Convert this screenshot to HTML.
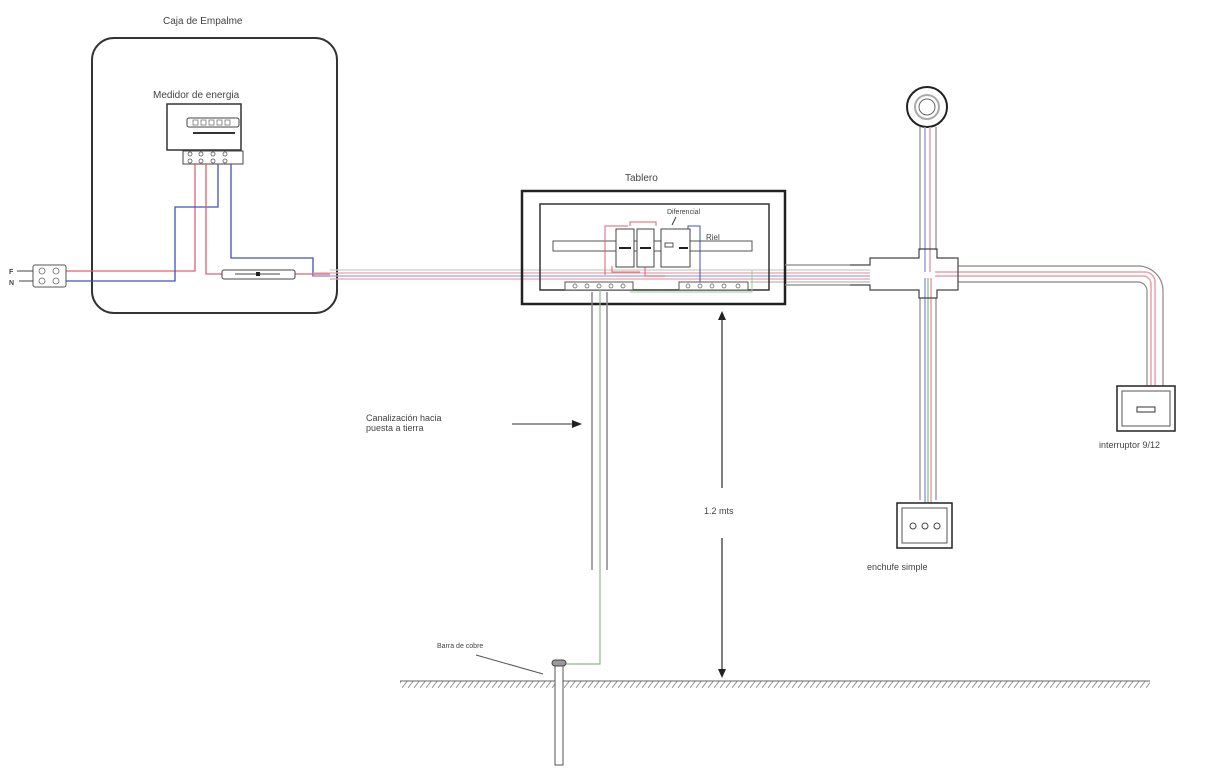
<!DOCTYPE html>
<html><head><meta charset="utf-8"><style>
html,body{margin:0;padding:0;background:#fff;width:1226px;height:779px;overflow:hidden}
svg{display:block}
text{font-family:"Liberation Sans",sans-serif;fill:#444}
</style></head><body>
<svg width="1226" height="779" viewBox="0 0 1226 779" xmlns="http://www.w3.org/2000/svg">
<defs>
<pattern id="h" width="6" height="8" patternUnits="userSpaceOnUse"><path d="M6 0 L0 8" stroke="#999" stroke-width="1"/></pattern>
</defs>
<text x="163" y="24" font-size="10">Caja de Empalme</text>
<rect x="92" y="38" width="245" height="275" rx="22" fill="none" stroke="#333" stroke-width="2"/>
<text x="153" y="98" font-size="10">Medidor de energia</text>
<rect x="167" y="104" width="74" height="46" fill="none" stroke="#333" stroke-width="1.5"/>
<rect x="187" y="118" width="52" height="9" rx="2" fill="none" stroke="#444"/>
<g fill="none" stroke="#666" stroke-width="0.7"><rect x="193" y="120" width="5" height="5"/><rect x="201" y="120" width="5" height="5"/><rect x="209" y="120" width="5" height="5"/><rect x="217" y="120" width="5" height="5"/><rect x="225" y="120" width="5" height="5"/></g>
<line x1="193" y1="133" x2="235" y2="133" stroke="#333" stroke-width="2"/>
<rect x="183" y="151" width="60" height="13" fill="none" stroke="#444"/>
<g fill="none" stroke="#555" stroke-width="0.8">
<circle cx="190" cy="154" r="2"/><circle cx="201" cy="154" r="2"/><circle cx="213" cy="154" r="2"/><circle cx="225" cy="154" r="2"/>
<circle cx="190" cy="161" r="2"/><circle cx="201" cy="161" r="2"/><circle cx="213" cy="161" r="2"/><circle cx="225" cy="161" r="2"/>
</g>
<polyline points="195,164 195,271 66,271" fill="none" stroke="#e06070" stroke-width="1.3"/>
<polyline points="218,164 218,207 175,207 175,281 66,281" fill="none" stroke="#4050c0" stroke-width="1.3"/>
<polyline points="206,164 206,274 222,274" fill="none" stroke="#e06070" stroke-width="1.3"/>
<polyline points="231,164 231,258 313,258 313,276 330,276" fill="none" stroke="#4050c0" stroke-width="1.3"/>
<polyline points="295,274 330,274" fill="none" stroke="#e06070" stroke-width="1.3"/>
<rect x="222" y="270" width="73" height="9" rx="2" fill="#fff" stroke="#444"/>
<line x1="235" y1="274" x2="280" y2="274" stroke="#444"/><rect x="256" y="272" width="4" height="4" fill="#222"/>
<rect x="33" y="265" width="33" height="22" rx="2" fill="#fff" stroke="#555"/>
<g fill="none" stroke="#666" stroke-width="0.8"><circle cx="42" cy="271" r="3"/><circle cx="56" cy="271" r="3"/><circle cx="42" cy="281" r="3"/><circle cx="56" cy="281" r="3"/></g>
<text x="9" y="274" font-size="7" font-weight="bold">F</text><text x="9" y="285" font-size="7" font-weight="bold">N</text>
<line x1="17" y1="271" x2="33" y2="271" stroke="#444"/><line x1="19" y1="281" x2="33" y2="281" stroke="#444"/>
<g fill="none" stroke-width="1.3">
<line x1="330" y1="270" x2="870" y2="270" stroke="#ccc"/>
<line x1="313" y1="273" x2="870" y2="273" stroke="#e8a0a8"/>
<line x1="313" y1="276" x2="870" y2="276" stroke="#a0a0e0"/>
<line x1="330" y1="279" x2="870" y2="279" stroke="#e8a0a8"/>
<line x1="750" y1="282" x2="870" y2="282" stroke="#bbb"/>
</g>
<text x="625" y="181" font-size="10">Tablero</text>
<rect x="522" y="191" width="263" height="113" fill="none" stroke="#222" stroke-width="2.5"/>
<rect x="540" y="204" width="229" height="86" fill="none" stroke="#333" stroke-width="1.5"/>
<rect x="553" y="241" width="199" height="10" fill="#fff" stroke="#555"/>
<g fill="none" stroke="#e06070" stroke-width="1"><polyline points="605,275 605,226 628,226"/><polyline points="630,226 630,222 656,222 656,226"/><polyline points="612,266 612,272 640,272"/><polyline points="645,266 645,276 665,276"/></g>
<g fill="none" stroke="#4050c0" stroke-width="1"><polyline points="688,229 688,226 700,226 700,290"/></g>
<g fill="#fff" stroke="#444" stroke-width="1">
<rect x="616" y="229" width="18" height="38"/><rect x="637" y="229" width="17" height="38"/><rect x="661" y="229" width="29" height="38"/>
</g>
<g fill="#222"><rect x="619" y="247" width="12" height="2"/><rect x="640" y="247" width="11" height="2"/><rect x="679" y="247" width="9" height="2"/></g>
<rect x="665" y="243" width="8" height="4" fill="none" stroke="#555"/>
<text x="667" y="214" font-size="7">Diferencial</text>
<text x="706" y="240" font-size="8">Riel</text>
<path d="M676 217 L672 225" stroke="#333"/>
<rect x="565" y="282" width="68" height="8" fill="#fff" stroke="#555"/>
<rect x="679" y="282" width="69" height="8" fill="#fff" stroke="#555"/>
<g fill="none" stroke="#555" stroke-width="0.7"><circle cx="575" cy="286" r="2"/><circle cx="587" cy="286" r="2"/><circle cx="599" cy="286" r="2"/><circle cx="611" cy="286" r="2"/><circle cx="623" cy="286" r="2"/>
<circle cx="688" cy="286" r="2"/><circle cx="700" cy="286" r="2"/><circle cx="712" cy="286" r="2"/><circle cx="724" cy="286" r="2"/><circle cx="738" cy="286" r="2"/></g>
<polyline points="752,270 752,292 630,292" fill="none" stroke="#9c9" stroke-width="1"/>
<line x1="592" y1="292" x2="592" y2="570" stroke="#888" stroke-width="1.5"/>
<line x1="607" y1="292" x2="607" y2="570" stroke="#888" stroke-width="1.5"/>
<polyline points="600,290 600,664 562,664" fill="none" stroke="#8b8" stroke-width="1.2"/>
<text x="366" y="421" font-size="9">Canalización hacia</text>
<text x="366" y="431" font-size="9">puesta a tierra</text>
<line x1="512" y1="424" x2="575" y2="424" stroke="#333"/><path d="M582 424 L572 420 L572 428Z" fill="#222"/>
<line x1="722" y1="318" x2="722" y2="488" stroke="#555" stroke-width="1.5"/>
<line x1="722" y1="538" x2="722" y2="672" stroke="#555" stroke-width="1.5"/>
<path d="M722 311 L718 320 L726 320Z" fill="#222"/><path d="M722 678 L718 669 L726 669Z" fill="#222"/>
<text x="704" y="514" font-size="9">1.2 mts</text>
<rect x="400" y="681" width="750" height="7" fill="url(#h)"/>
<line x1="400" y1="681" x2="1150" y2="681" stroke="#666"/>
<rect x="555" y="664" width="8" height="101" fill="#fff" stroke="#555"/>
<rect x="552" y="660" width="14" height="6" rx="3" fill="#999" stroke="#444"/>
<text x="437" y="648" font-size="7">Barra de cobre</text>
<line x1="476" y1="655" x2="543" y2="674" stroke="#555"/>
<circle cx="927" cy="107" r="20" fill="#fff" stroke="#222" stroke-width="2"/>
<circle cx="927" cy="107" r="12" fill="none" stroke="#aaa" stroke-width="2"/>
<circle cx="927" cy="107" r="8" fill="none" stroke="#666"/>
<g fill="none" stroke="#888" stroke-width="1.2">
<line x1="920" y1="127" x2="920" y2="250"/><line x1="936" y1="127" x2="936" y2="250"/>
<line x1="920" y1="298" x2="920" y2="500"/><line x1="936" y1="298" x2="936" y2="500"/>
<line x1="785" y1="265" x2="850" y2="265"/><line x1="785" y1="285" x2="850" y2="285"/>
</g>
<path d="M958 266 H1138 A25 25 0 0 1 1163 291 V388" fill="none" stroke="#888" stroke-width="1.2"/>
<path d="M958 282 H1138 A9 9 0 0 1 1147 291 V388" fill="none" stroke="#888" stroke-width="1.2"/>
<g fill="none" stroke-width="1.5">
<line x1="925" y1="127" x2="925" y2="272" stroke="#a0a0e0"/><line x1="930" y1="127" x2="930" y2="272" stroke="#e8a0a8"/>
<line x1="925" y1="278" x2="925" y2="505" stroke="#a0a0e0"/><line x1="928" y1="278" x2="928" y2="505" stroke="#9c9"/><line x1="931" y1="278" x2="931" y2="505" stroke="#e8a0a8"/>
<path d="M935 272 H1145 A10 10 0 0 1 1155 282 V390" stroke="#e8a0a8"/>
<path d="M935 276 H1143 A8 8 0 0 1 1151 284 V390" stroke="#e8a0a8"/>
</g>
<path d="M850 265 H870 V258 H919 V249 H937 V258 H958 V290 H937 V298 H919 V290 H870 V285 H850" fill="none" stroke="#444" stroke-width="1.2"/>
<rect x="1117" y="386" width="58" height="45" fill="#fff" stroke="#222" stroke-width="1.5"/>
<rect x="1122" y="391" width="48" height="35" fill="none" stroke="#555"/>
<rect x="1137" y="407" width="18" height="5" fill="none" stroke="#333"/>
<text x="1099" y="448" font-size="9">interruptor 9/12</text>
<rect x="897" y="503" width="55" height="45" fill="#fff" stroke="#222" stroke-width="1.5"/>
<rect x="902" y="508" width="45" height="35" fill="none" stroke="#555"/>
<g fill="none" stroke="#444"><circle cx="913" cy="526" r="3"/><circle cx="925" cy="526" r="3"/><circle cx="937" cy="526" r="3"/></g>
<text x="867" y="570" font-size="9">enchufe simple</text>
</svg>
</body></html>
